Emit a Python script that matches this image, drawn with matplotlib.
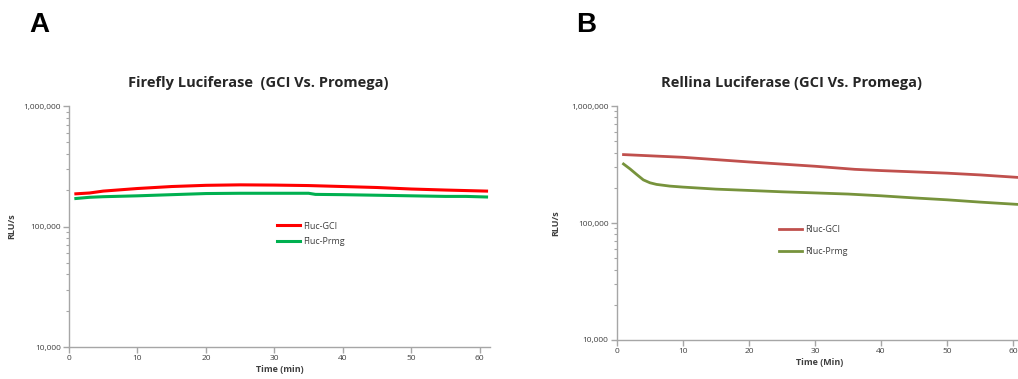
import numpy as np
import matplotlib.pyplot as plt
from matplotlib.ticker import FuncFormatter, LogLocator, NullFormatter

plt.rcParams['font.family'] = ['Open Sans', 'DejaVu Sans']

# Panel A - Firefly luciferase
t_a = [1, 3, 5, 10, 15, 20, 25, 30, 35, 40, 45, 50, 55, 61]
fluc_gci = [187000, 190000, 197000, 207000, 215000, 220000, 222000, 221000,
            219000, 215000, 211000, 205000, 201000, 197000]
t_a2 = [1, 3, 5, 10, 15, 20, 25, 30, 35, 36, 40, 45, 50, 55, 58, 61]
fluc_prmg = [171000, 175000, 177000, 180000, 184000, 188000, 189000, 189000,
             189000, 185000, 184000, 182000, 180000, 178000, 178000, 176000]

# Panel B - Renilla luciferase
t_b = [1, 10, 20, 30, 36, 40, 50, 55, 61]
rluc_gci = [385000, 365000, 333000, 306000, 288000, 281000, 267000, 258000, 245000]
t_b2 = [1, 2, 3, 4, 5, 6, 8, 10, 15, 20, 25, 30, 35, 40, 45, 50, 55, 61]
rluc_prmg = [320000, 290000, 260000, 234000, 221000, 214000, 207000, 203000,
             195000, 190000, 185000, 181000, 177000, 171000, 164000, 158000,
             151000, 144000]

fig = plt.figure(figsize=(10.18, 3.79), dpi=100)
axA = fig.add_axes([0.0678, 0.0844, 0.4135, 0.6356])
axB = fig.add_axes([0.606, 0.103, 0.399, 0.617])

grey = '#A6A6A6'
txt = '#404040'

def style(ax, xlab, ylab_x):
    ax.set_yscale('log')
    ax.set_ylim(1e4, 1e6)
    ax.set_xlim(0, 61.5)
    ax.set_xticks([0, 10, 20, 30, 40, 50, 60])
    ax.yaxis.set_major_locator(LogLocator(base=10, numticks=5))
    ax.yaxis.set_minor_locator(LogLocator(base=10, subs=np.arange(2, 10), numticks=20))
    ax.yaxis.set_minor_formatter(NullFormatter())
    ax.yaxis.set_major_formatter(FuncFormatter(lambda v, p: f'{int(round(v)):,}'))
    for s in ['top', 'right']:
        ax.spines[s].set_visible(False)
    for s in ['left', 'bottom']:
        ax.spines[s].set_color(grey)
        ax.spines[s].set_linewidth(1)
    ax.tick_params(axis='both', which='major', colors=grey, labelcolor=txt,
                   labelsize=6, length=4, width=1, pad=2)
    ax.tick_params(axis='y', which='minor', colors=grey, length=2, width=0.8)
    ax.set_xlabel(xlab, fontsize=6.5, fontweight='bold', color=txt, labelpad=2)
    ax.set_ylabel('RLU/s', fontsize=6.5, fontweight='bold', color=txt)
    ax.yaxis.set_label_coords(ylab_x, 0.5)

axA.plot(t_a, fluc_gci, color='#FF0000', lw=2.2, label='Fluc-GCI')
axA.plot(t_a2, fluc_prmg, color='#00B050', lw=2.2, label='Fluc-Prmg')
style(axA, 'Time (min)', -0.125)
axA.set_title('Firefly Luciferase  (GCI Vs. Promega)', fontsize=10.5,
              fontweight='bold', color='#262626', pad=14, x=0.449)
axA.legend(loc='center', bbox_to_anchor=(0.574, 0.47), frameon=False, fontsize=6.5,
           handlelength=2.6, handletextpad=0.3, labelspacing=0.7, labelcolor=txt)

axB.plot(t_b, rluc_gci, color='#C0504D', lw=2, label='Rluc-GCI')
axB.plot(t_b2, rluc_prmg, color='#77933C', lw=2, label='Rluc-Prmg')
style(axB, 'Time (Min)', -0.14)
axB.set_title('Rellina Luciferase (GCI Vs. Promega)', fontsize=10.5,
              fontweight='bold', color='#262626', pad=14, x=0.43)
axB.legend(loc='center', bbox_to_anchor=(0.483, 0.425), frameon=False, fontsize=6.5,
           handlelength=2.6, handletextpad=0.3, labelspacing=1.5, labelcolor=txt)

fig.text(0.029, 0.935, 'A', fontsize=20, fontweight='bold', ha='left', va='center',
         family=['Liberation Sans', 'DejaVu Sans'])
fig.text(0.566, 0.935, 'B', fontsize=20, fontweight='bold', ha='left', va='center',
         family=['Liberation Sans', 'DejaVu Sans'])

fig.savefig('out.png', dpi=100)
